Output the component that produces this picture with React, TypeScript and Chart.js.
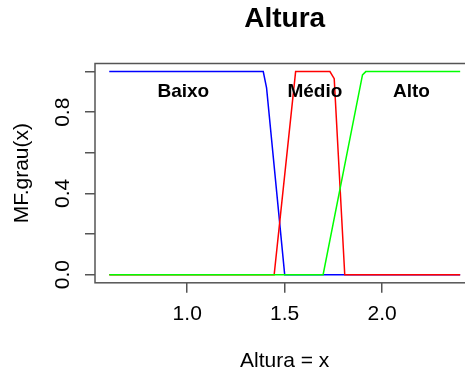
import React, { useEffect, useRef } from "react";
import { Chart, registerables } from "chart.js";

Chart.register(...registerables);

const FONT = "'Liberation Sans', Arial, Helvetica, sans-serif";

// Membership functions (x = Altura, y = grau)
const baixoX = [0.6, 1.39, 1.407, 1.5, 2.4];
const baixoY = [1, 1, 0.92, 0, 0];
const medioX = [0.6, 1.446, 1.556, 1.732, 1.754, 1.808, 2.4];
const medioY = [0, 0, 1, 1, 0.965, 0, 0];
const altoX = [0.6, 1.697, 1.899, 1.916, 2.4];
const altoY = [0, 0, 0.984, 1, 1];

const xTicks = [1.0, 1.5, 2.0];
const xTickLabels = ["1.0", "1.5", "2.0"];
const yTicks = [0, 0.2, 0.4, 0.6, 0.8, 1.0];
const yTickLabels = ["0.0", "", "0.4", "", "0.8", ""];

const setNames = ["Baixo", "Médio", "Alto"];
const setLabelX = [0.98, 1.655, 2.15];
const setLabelY = [0.9, 0.9, 0.9];

const toPts = (xs: number[], ys: number[]) => xs.map((x, i) => ({ x, y: ys[i] }));

const boxPlugin = {
  id: "rbox",
  afterDraw(chart: any) {
    const { ctx, chartArea } = chart;
    ctx.save();
    ctx.strokeStyle = "#555";
    ctx.lineWidth = 1.5;
    ctx.strokeRect(chartArea.left, chartArea.top, chartArea.right - chartArea.left, chartArea.bottom - chartArea.top);
    ctx.restore();
  },
};

const labelPlugin = {
  id: "setLabels",
  afterDatasetsDraw(chart: any) {
    const { ctx, scales } = chart;
    ctx.save();
    ctx.font = `bold 19px ${FONT}`;
    ctx.fillStyle = "#000";
    ctx.textAlign = "center";
    ctx.textBaseline = "middle";
    setNames.forEach((n, i) => {
      ctx.fillText(n, scales.x.getPixelForValue(setLabelX[i]), scales.y.getPixelForValue(setLabelY[i]));
    });
    ctx.restore();
  },
};

export default function App() {
  const ref = useRef<HTMLCanvasElement>(null);
  useEffect(() => {
    if (!ref.current) return;
    const common = { showLine: true, pointRadius: 0, borderWidth: 1.5, tension: 0, fill: false };
    const chart = new Chart(ref.current, {
      type: "scatter",
      data: {
        datasets: [
          { ...common, label: "Baixo", data: toPts(baixoX, baixoY), borderColor: "#0000ff", order: 3 },
          { ...common, label: "Médio", data: toPts(medioX, medioY), borderColor: "#ff0000", order: 2 },
          { ...common, label: "Alto", data: toPts(altoX, altoY), borderColor: "#00ff00", order: 1 },
        ],
      },
      options: {
        animation: false,
        responsive: false,
        devicePixelRatio: 1,
        layout: { padding: { left: 0, right: 25.6, top: 0, bottom: 0 } },
        plugins: {
          legend: { display: false },
          tooltip: { enabled: false },
          title: {
            display: true,
            text: "Altura",
            fullSize: false,
            align: "center",
            color: "#000",
            font: { family: FONT, size: 28, weight: "bold", lineHeight: 1.2 },
            padding: { top: 2.8, bottom: 27.1 },
          },
        },
        scales: {
          x: {
            type: "linear",
            min: 0.527,
            max: 2.473,
            afterBuildTicks: (s: any) => {
              s.ticks = xTicks.map((v) => ({ value: v }));
            },
            afterFit: (s: any) => {
              s.height = 91.2;
            },
            ticks: {
              autoSkip: false,
              maxRotation: 0,
              padding: 9,
              color: "#000",
              font: { family: FONT, size: 21 },
              callback: (_v: any, i: number) => xTickLabels[i],
            },
            grid: { drawOnChartArea: false, drawTicks: true, tickLength: 10, color: "#555", lineWidth: 1.5 },
            border: { display: false },
            title: {
              display: true,
              text: "Altura = x",
              color: "#000",
              font: { family: FONT, size: 21 },
              padding: { top: 0, bottom: 0 },
            },
          },
          y: {
            type: "linear",
            min: -0.04,
            max: 1.04,
            afterBuildTicks: (s: any) => {
              s.ticks = yTicks.map((v) => ({ value: v }));
            },
            afterFit: (s: any) => {
              s.width = 95;
            },
            ticks: {
              autoSkip: false,
              minRotation: 90,
              maxRotation: 90,
              crossAlign: "center",
              padding: 7.4,
              color: "#000",
              font: { family: FONT, size: 21 },
              callback: (_v: any, i: number) => yTickLabels[i],
            },
            grid: { drawOnChartArea: false, drawTicks: true, tickLength: 10, color: "#555", lineWidth: 1.5 },
            border: { display: false },
            title: {
              display: true,
              text: "MF.grau(x)",
              color: "#000",
              font: { family: FONT, size: 21 },
              padding: { top: 10, bottom: 0 },
            },
          },
        },
      },
      plugins: [boxPlugin, labelPlugin],
    } as any);
    return () => chart.destroy();
  }, []);
  return (
    <div style={{ position: "fixed", left: 0, top: 0, width: 465, height: 374, overflow: "hidden", background: "#fff" }}>
      <canvas ref={ref} width={500} height={374} style={{ width: 500, height: 374, display: "block" }} />
    </div>
  );
}
